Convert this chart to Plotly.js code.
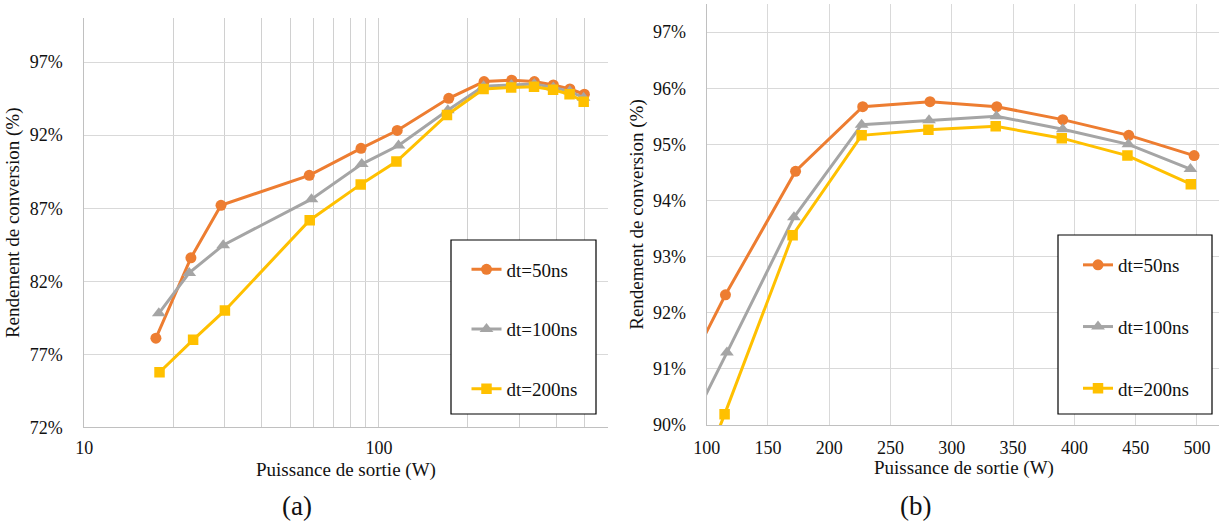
<!DOCTYPE html>
<html>
<head>
<meta charset="utf-8">
<script src="https://cdn.plot.ly/plotly-3.0.1.min.js"></script>
<style>
  html, body { margin: 0; padding: 0; background: #fff; }
  #chart { width: 1219px; height: 524px; }
</style>
</head>
<body>
<div id="chart"></div>
<script>
// ---- Data ----
const seriesNames = ['dt=50ns', 'dt=100ns', 'dt=200ns'];

// Output power (W)
const power50  = [17.5, 23.0, 29.1, 58.0, 86.9, 115.3, 172.5, 227.3, 282.2, 336.7, 390.5, 444.4, 497.7];
const power100 = [17.9, 22.7, 29.6, 59.0, 87.4, 116.5, 171.2, 226.4, 281.4, 336.4, 390.5, 444.1, 494.7];
const power200 = [18.0, 23.4, 30.0, 58.2, 86.7, 114.6, 170.1, 226.4, 280.9, 335.8, 389.7, 443.3, 495.0];

// Conversion efficiency (%)
const eff50  = [78.1, 83.6, 87.2, 89.25, 91.1, 92.32, 94.52, 95.67, 95.76, 95.67, 95.44, 95.16, 94.80];
const eff100 = [79.8, 82.57, 84.47, 87.62, 90.02, 91.29, 93.70, 95.35, 95.43, 95.50, 95.27, 95.00, 94.56];
const eff200 = [75.77, 77.99, 80.0, 86.18, 88.63, 90.19, 93.38, 95.16, 95.26, 95.32, 95.11, 94.80, 94.29];

// Tick values / labels
const logTickVals  = [10, 20, 30, 40, 50, 60, 70, 80, 90, 100, 200, 300, 400, 500];
const logTickText  = ['10', '', '', '', '', '', '', '', '', '100', '', '', '', ''];
const leftYTicks   = [72, 77, 82, 87, 92, 97];
const leftYText    = ['72%', '77%', '82%', '87%', '92%', '97%'];
const rightYTicks  = [90, 91, 92, 93, 94, 95, 96, 97];
const rightYText   = ['90%', '91%', '92%', '93%', '94%', '95%', '96%', '97%'];
const rightXTicks  = [100, 150, 200, 250, 300, 350, 400, 450, 500];
const subLabels    = ['(a)', '(b)'];
const xTitle = 'Puissance de sortie (W)';
const yTitle = 'Rendement de conversion (%)';

// ---- Styling ----
const W = 1219, H = 524;
const px = v => v / W;
const py = v => 1 - v / H;
const FONT = 'Liberation Serif';
const colors  = ['#ED7D31', '#A5A5A5', '#FFC000'];
const symbols = ['circle', 'triangle-up', 'square'];
const msizes  = [11, 12, 10.5];
const xs = [power50, power100, power200];
const ys = [eff50, eff100, eff200];

const traces = [];
for (let i = 0; i < 3; i++) {
  traces.push({
    x: xs[i], y: ys[i], type: 'scatter', mode: 'lines+markers', name: seriesNames[i],
    xaxis: 'x', yaxis: 'y', legend: 'legend', legendgroup: 'a' + i,
    line: { color: colors[i], width: 3 },
    marker: { color: colors[i], symbol: symbols[i], size: msizes[i] }
  });
}
for (let i = 0; i < 3; i++) {
  traces.push({
    x: xs[i], y: ys[i], type: 'scatter', mode: 'lines+markers', name: seriesNames[i],
    xaxis: 'x2', yaxis: 'y2', legend: 'legend2', legendgroup: 'b' + i,
    line: { color: colors[i], width: 3 },
    marker: { color: colors[i], symbol: symbols[i], size: msizes[i] }
  });
}

const tickFont = { family: FONT, size: 18, color: '#111' };
const titleFont = { family: FONT, size: 19, color: '#111' };

const layout = {
  width: W, height: H,
  margin: { l: 0, r: 0, t: 0, b: 0, pad: 0 },
  paper_bgcolor: '#fff', plot_bgcolor: '#fff',
  font: { family: FONT, size: 18, color: '#111' },
  xaxis: {
    domain: [px(84.3), px(608.3)], anchor: 'y', type: 'log',
    range: [1, Math.log10(600)],
    tickmode: 'array', tickvals: logTickVals, ticktext: logTickText,
    showgrid: true, gridcolor: '#d0d0d0', gridwidth: 1,
    showline: true, linecolor: '#c0c0c0', linewidth: 1,
    ticks: 'outside', ticklen: 4, tickcolor: 'rgba(0,0,0,0)',
    tickfont: tickFont, zeroline: false
  },
  yaxis: {
    domain: [py(427.3), py(18.3)], anchor: 'x',
    range: [72, 100],
    tickmode: 'array', tickvals: leftYTicks, ticktext: leftYText,
    showgrid: true, gridcolor: '#d9d9d9', gridwidth: 1,
    showline: true, linecolor: '#c0c0c0', linewidth: 1,
    ticks: 'outside', ticklen: 17, tickcolor: 'rgba(0,0,0,0)',
    tickfont: tickFont, zeroline: false,
    title: { text: yTitle, font: titleFont, standoff: 5 }
  },
  xaxis2: {
    domain: [px(706.7), 1], anchor: 'y2',
    range: [100, 518],
    tickmode: 'array', tickvals: rightXTicks,
    showgrid: true, gridcolor: '#d9d9d9', gridwidth: 1,
    showline: true, linecolor: '#c0c0c0', linewidth: 1,
    ticks: 'outside', ticklen: 6, tickcolor: 'rgba(0,0,0,0)',
    tickfont: tickFont, zeroline: false
  },
  yaxis2: {
    domain: [py(425), py(4)], anchor: 'x2',
    range: [90, 97.5],
    tickmode: 'array', tickvals: rightYTicks, ticktext: rightYText,
    showgrid: true, gridcolor: '#d9d9d9', gridwidth: 1,
    showline: true, linecolor: '#c0c0c0', linewidth: 1,
    ticks: 'outside', ticklen: 16, tickcolor: 'rgba(0,0,0,0)',
    tickfont: tickFont, zeroline: false,
    title: { text: yTitle, font: titleFont, standoff: 4 }
  },
  legend: {
    x: px(466.5), y: py(250.5), xanchor: 'left', yanchor: 'top',
    bgcolor: 'rgba(0,0,0,0)', borderwidth: 0,
    traceorder: 'grouped', tracegroupgap: 32,
    font: { family: FONT, size: 19, color: '#111' }
  },
  legend2: {
    x: px(1078), y: py(246), xanchor: 'left', yanchor: 'top',
    bgcolor: 'rgba(0,0,0,0)', borderwidth: 0,
    traceorder: 'grouped', tracegroupgap: 34,
    font: { family: FONT, size: 19, color: '#111' }
  },
  shapes: [
    { type: 'rect', xref: 'paper', yref: 'paper',
      x0: px(451), x1: px(596), y0: py(414), y1: py(240),
      line: { color: '#000', width: 1.2 }, fillcolor: '#fff', layer: 'above' },
    { type: 'rect', xref: 'paper', yref: 'paper',
      x0: px(1058), x1: px(1212), y0: py(414), y1: py(235),
      line: { color: '#000', width: 1.2 }, fillcolor: '#fff', layer: 'above' }
  ],
  annotations: [
    { text: xTitle, xref: 'paper', yref: 'paper', x: px(346.3), y: py(469.5),
      xanchor: 'center', yanchor: 'middle', showarrow: false, font: titleFont },
    { text: xTitle, xref: 'paper', yref: 'paper', x: px(963.5), y: py(468),
      xanchor: 'center', yanchor: 'middle', showarrow: false, font: titleFont },
    { text: subLabels[0], xref: 'paper', yref: 'paper', x: px(297), y: py(506),
      xanchor: 'center', yanchor: 'middle', showarrow: false,
      font: { family: FONT, size: 27, color: '#111' } },
    { text: subLabels[1], xref: 'paper', yref: 'paper', x: px(915), y: py(506),
      xanchor: 'center', yanchor: 'middle', showarrow: false,
      font: { family: FONT, size: 27, color: '#111' } }
  ]
};

Plotly.newPlot('chart', traces, layout, { staticPlot: true, displayModeBar: false });
</script>
</body>
</html>
